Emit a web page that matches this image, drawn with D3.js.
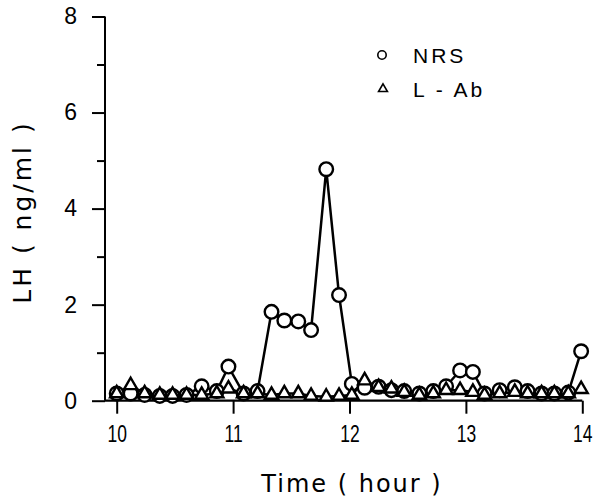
<!DOCTYPE html>
<html>
<head>
	<meta charset="utf-8">
	<title>LH</title>
	<script src="https://cdn.jsdelivr.net/npm/d3@7"></script>
</head>
<body style="margin:0;background-color:#fff;">
</body>
</html>
<script type="text/javascript">
	var width = 593;
	var height = 503;

	// sample times (hour), ~7 min apart
	var times = [10.00, 10.12, 10.24, 10.37, 10.48, 10.60, 10.73, 10.86, 10.96, 11.09,
				11.21, 11.33, 11.44, 11.56, 11.67, 11.80, 11.91, 12.02, 12.13, 12.25,
				12.36, 12.47, 12.60, 12.72, 12.83, 12.95, 13.06, 13.16, 13.29, 13.42,
				13.53, 13.65, 13.76, 13.88, 13.99];
	var nrs = [0.15, 0.15, 0.12, 0.10, 0.10, 0.12, 0.30, 0.20, 0.71, 0.15,
				0.20, 1.85, 1.67, 1.65, 1.47, 4.82, 2.20, 0.35, 0.27, 0.29,
				0.22, 0.20, 0.15, 0.20, 0.30, 0.63, 0.60, 0.15, 0.22, 0.28,
				0.20, 0.15, 0.15, 0.17, 1.03];
	var lab = [0.15, 0.32, 0.15, 0.12, 0.12, 0.12, 0.12, 0.15, 0.25, 0.15,
				0.15, 0.12, 0.15, 0.15, 0.10, 0.08, 0.10, 0.12, 0.42, 0.28,
				0.25, 0.18, 0.12, 0.15, 0.22, 0.22, 0.18, 0.12, 0.15, 0.18,
				0.15, 0.15, 0.15, 0.15, 0.24];
	var xTicks = [10, 11, 12, 13, 14];
	var yTicks = [0, 2, 4, 6, 8];
	var yMinor = [1, 3, 5, 7];

	var x = d3.scaleLinear().domain([10, 14]).range([116.7, 582.3]);
	var y = d3.scaleLinear().domain([0, 8]).range([400.7, 16.5]);
	var axisX0 = 105; // where the y axis stands

	var svg = d3.select("body").append("svg").attr("width", width).attr("height", height)
				.style("font-family", "'Liberation Sans', Arial, sans-serif");

	// axis lines
	svg.append("line").attr("x1", axisX0).attr("x2", x(14)).attr("y1", y(0)).attr("y2", y(0))
				.attr("stroke", "#000").attr("stroke-width", 2.2);
	svg.append("line").attr("x1", axisX0).attr("x2", axisX0).attr("y1", y(0)).attr("y2", y(8))
				.attr("stroke", "#000").attr("stroke-width", 2);

	var xAxis = d3.axisBottom(x).tickValues(xTicks).tickSize(13).tickPadding(12).tickFormat(d3.format("d"));
	var gx = svg.append("g").attr("transform", "translate(0," + y(0) + ")").call(xAxis);
	gx.select(".domain").remove();

	var yAxis = d3.axisLeft(y).tickValues(yTicks).tickSize(13).tickPadding(15).tickFormat(d3.format("d"));
	var gy = svg.append("g").attr("transform", "translate(" + axisX0 + ",0)").call(yAxis);
	gy.select(".domain").remove();

	var yAxisMinor = d3.axisLeft(y).tickValues(yMinor).tickSize(8).tickFormat("");
	var gy2 = svg.append("g").attr("transform", "translate(" + axisX0 + ",0)").call(yAxisMinor);
	gy2.select(".domain").remove();

	svg.selectAll(".tick line").attr("stroke", "#000").attr("stroke-width", 2);
	svg.selectAll(".tick text").attr("fill", "#000").style("font-size", "23px")
				.style("font-family", "'Liberation Sans', Arial, sans-serif");
	// the hour labels are set narrow in the original
	gx.selectAll(".tick text").attr("transform", "scale(0.76,1)");

	// axis titles
	svg.append("text").attr("x", 352).attr("y", 492).attr("text-anchor", "middle")
				.style("font-family", "'DejaVu Sans', sans-serif").style("font-size", "24px")
				.style("letter-spacing", "2px").text("Time ( hour )");
	svg.append("text").attr("transform", "translate(31,212) rotate(-90)").attr("text-anchor", "middle")
				.style("font-family", "'DejaVu Sans', sans-serif").style("font-size", "25px")
				.style("letter-spacing", "3px").text("LH ( ng/ml )");

	var pts = function(vals){ return vals.map(function(v, i){ return [times[i], v]; }); };
	var line = d3.line().x(function(d){ return x(d[0]); }).y(function(d){ return y(d[1]); });

	svg.append("path").attr("d", line(pts(nrs))).attr("fill", "none").attr("stroke", "#000").attr("stroke-width", 2.5);
	svg.append("path").attr("d", line(pts(lab))).attr("fill", "none").attr("stroke", "#000").attr("stroke-width", 2.5);

	svg.selectAll("circle.nrs").data(pts(nrs)).enter().append("circle").attr("class", "nrs")
				.attr("cx", function(d){ return x(d[0]); })
				.attr("cy", function(d){ return y(d[1]); })
				.attr("r", 6.8)
				.attr("fill", "#fff").attr("stroke", "#000").attr("stroke-width", 2.4);

	var tri = d3.symbol().type(d3.symbolTriangle).size(75);
	svg.selectAll("path.lab").data(pts(lab)).enter().append("path").attr("class", "lab")
				.attr("d", tri)
				.attr("transform", function(d){ return "translate(" + x(d[0]) + "," + y(d[1]) + ")"; })
				.attr("fill", "#fff").attr("stroke", "#000").attr("stroke-width", 2.4);

	// legend
	var legend = svg.append("g");
	legend.append("circle").attr("cx", 382).attr("cy", 55).attr("r", 4.2)
				.attr("fill", "#fff").attr("stroke", "#000").attr("stroke-width", 1.6);
	legend.append("path").attr("d", d3.symbol().type(d3.symbolTriangle).size(34))
				.attr("transform", "translate(383,89)")
				.attr("fill", "#fff").attr("stroke", "#000").attr("stroke-width", 1.6);
	legend.append("text").attr("x", 413).attr("y", 62.5).style("font-size", "21px")
				.style("letter-spacing", "3px").text("NRS");
	legend.append("text").attr("x", 413).attr("y", 96.5).style("font-size", "21px")
				.style("letter-spacing", "3px").text("L - Ab");
</script>
